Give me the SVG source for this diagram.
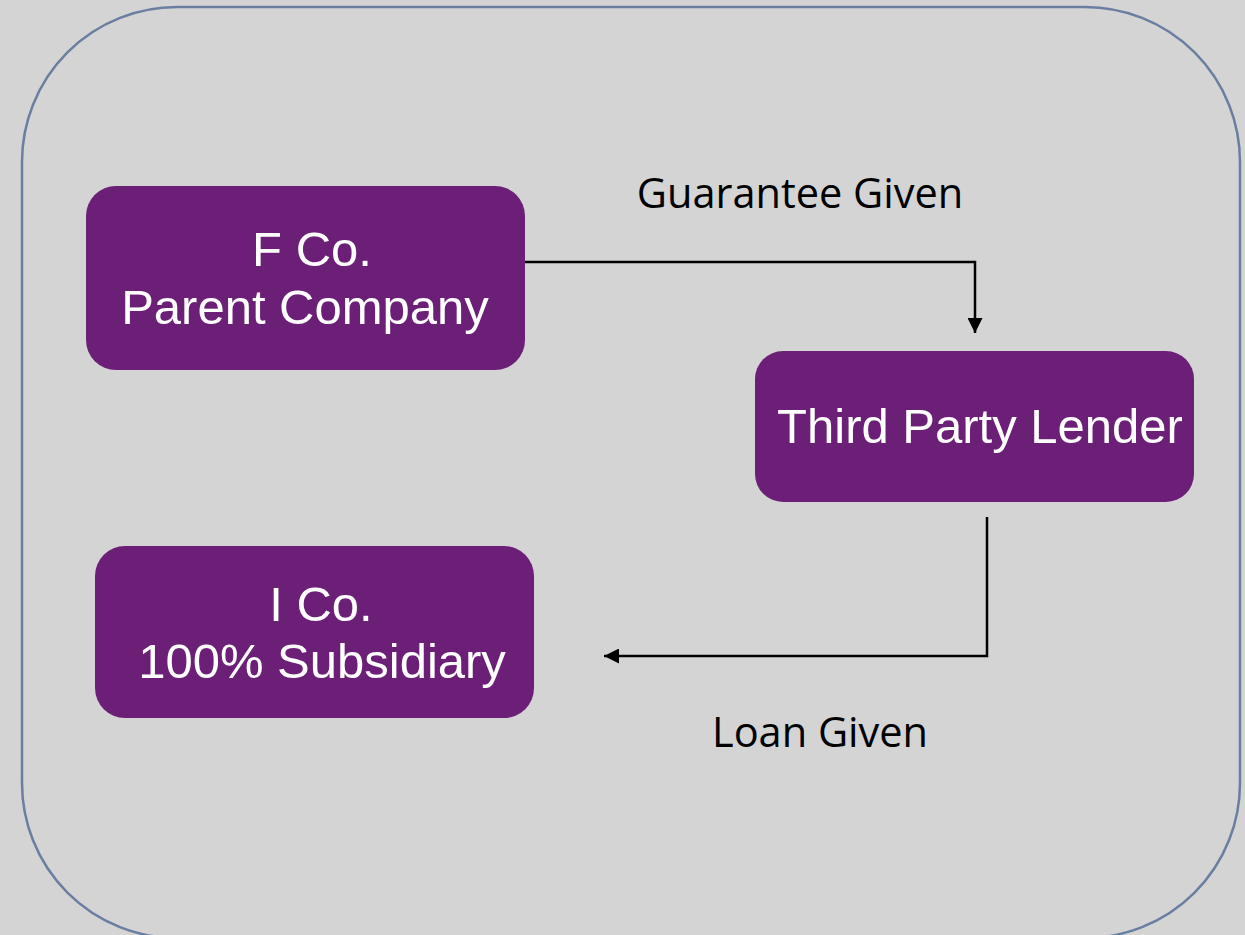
<svg xmlns="http://www.w3.org/2000/svg" width="1245" height="935" viewBox="0 0 1245 935">
<style>
.node{fill:#6c1f76;}
.nt{font-family:"Liberation Sans",Arial,sans-serif;font-size:49px;fill:#ffffff;text-anchor:middle;}
.lbl{font-family:"Open Sans","Liberation Sans",sans-serif;font-size:41.5px;fill:#000000;text-anchor:middle;}
.conn{fill:none;stroke:#000000;stroke-width:2.5;}
</style>
<defs>
<marker id="arr" viewBox="0 0 10 10" refX="10" refY="5" markerWidth="15" markerHeight="15" markerUnits="userSpaceOnUse" orient="auto">
<path d="M0,0 L10,5 L0,10 z" fill="#000000"/>
</marker>
</defs>
<rect x="0" y="0" width="1245" height="935" fill="#d4d4d4"/>
<rect id="frame" x="22" y="7" width="1218" height="931" rx="155" ry="155" fill="#d4d4d4" stroke="#6a7fa0" stroke-width="2.5"/>
<g id="connectors">
<path class="conn" d="M525,262 H975 V333" marker-end="url(#arr)"/>
<path class="conn" d="M987,517 V656 H604" marker-end="url(#arr)"/>
<text class="lbl" x="800" y="208">Guarantee Given</text>
<text class="lbl" x="820" y="747">Loan Given</text>
</g>
<g id="fco">
<rect class="node" x="86" y="186" width="439" height="184" rx="30" ry="30"/>
<text class="nt" x="312" y="266">F Co.</text>
<text class="nt" x="305" y="324">Parent Company</text>
</g>
<g id="lender">
<rect class="node" x="755" y="351" width="439" height="151" rx="28" ry="28"/>
<text class="nt" x="980" y="443">Third Party Lender</text>
</g>
<g id="ico">
<rect class="node" x="95" y="546" width="439" height="172" rx="30" ry="30"/>
<text class="nt" x="321" y="621">I Co.</text>
<text class="nt" x="322" y="678">100% Subsidiary</text>
</g>
</svg>
